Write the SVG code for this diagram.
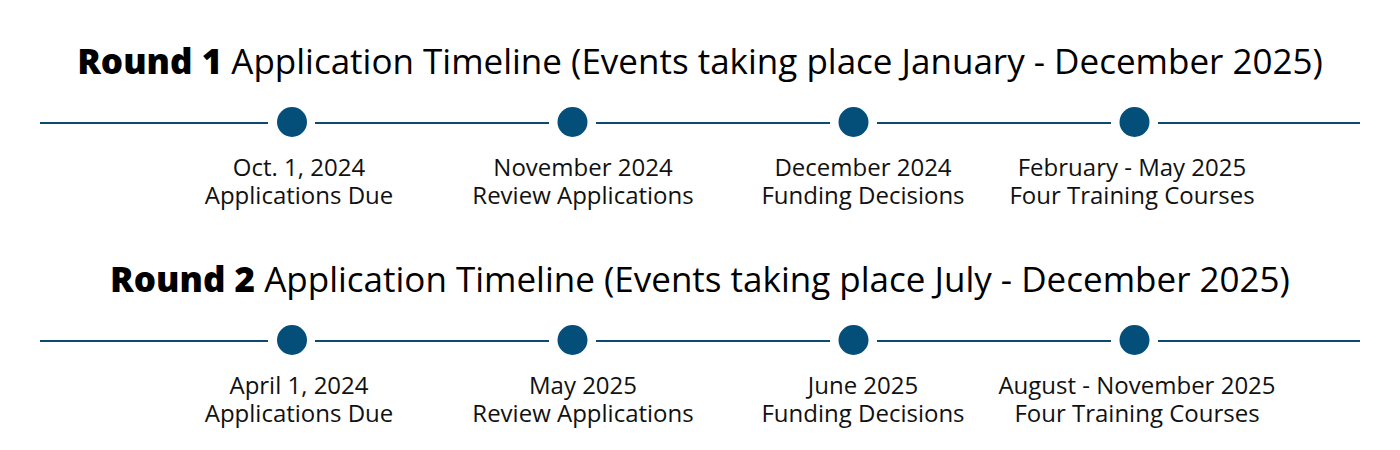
<svg xmlns="http://www.w3.org/2000/svg" width="1400" height="450" viewBox="0 0 1400 450">
<style>
.title{font-family:"Open Sans","Noto Sans",sans-serif;font-size:35px;fill:#000;text-anchor:middle}
.b{font-weight:800}
.lbl{font-family:"Open Sans","Noto Sans",sans-serif;font-size:24px;fill:#111;text-anchor:middle}
.ln{stroke:#0e4a6b;stroke-width:2;fill:none}
.dot{fill:#034f7a}
</style>
<rect width="1400" height="450" fill="#fff"/>
<text class="title" x="700" y="74"><tspan class="b">Round 1</tspan> Application Timeline (Events taking place January - December 2025)</text>
<text class="title" x="700" y="292"><tspan class="b">Round 2</tspan> Application Timeline (Events taking place July - December 2025)</text>
<g id="connectors">
<path class="ln" d="M40 123H268M315 123H549M596 123H830M877 123H1111M1158 123H1360"/>
<path class="ln" d="M40 341H268M315 341H549M596 341H830M877 341H1111M1158 341H1360"/>
</g>
<g id="r1n1"><circle class="dot" cx="292" cy="122" r="15"/><text class="lbl" x="299" y="176">Oct. 1, 2024</text><text class="lbl" x="299" y="204">Applications Due</text></g>
<g id="r1n2"><circle class="dot" cx="572.5" cy="122" r="15"/><text class="lbl" x="583" y="176">November 2024</text><text class="lbl" x="583" y="204">Review Applications</text></g>
<g id="r1n3"><circle class="dot" cx="853.5" cy="122" r="15"/><text class="lbl" x="863" y="176">December 2024</text><text class="lbl" x="863" y="204">Funding Decisions</text></g>
<g id="r1n4"><circle class="dot" cx="1134.5" cy="122" r="15"/><text class="lbl" x="1132" y="176">February - May 2025</text><text class="lbl" x="1132" y="204">Four Training Courses</text></g>
<g id="r2n1"><circle class="dot" cx="292" cy="340" r="15"/><text class="lbl" x="299" y="394">April 1, 2024</text><text class="lbl" x="299" y="422">Applications Due</text></g>
<g id="r2n2"><circle class="dot" cx="572.5" cy="340" r="15"/><text class="lbl" x="583" y="394">May 2025</text><text class="lbl" x="583" y="422">Review Applications</text></g>
<g id="r2n3"><circle class="dot" cx="853.5" cy="340" r="15"/><text class="lbl" x="863" y="394">June 2025</text><text class="lbl" x="863" y="422">Funding Decisions</text></g>
<g id="r2n4"><circle class="dot" cx="1134.5" cy="340" r="15"/><text class="lbl" x="1137" y="394">August - November 2025</text><text class="lbl" x="1137" y="422">Four Training Courses</text></g>
</svg>
